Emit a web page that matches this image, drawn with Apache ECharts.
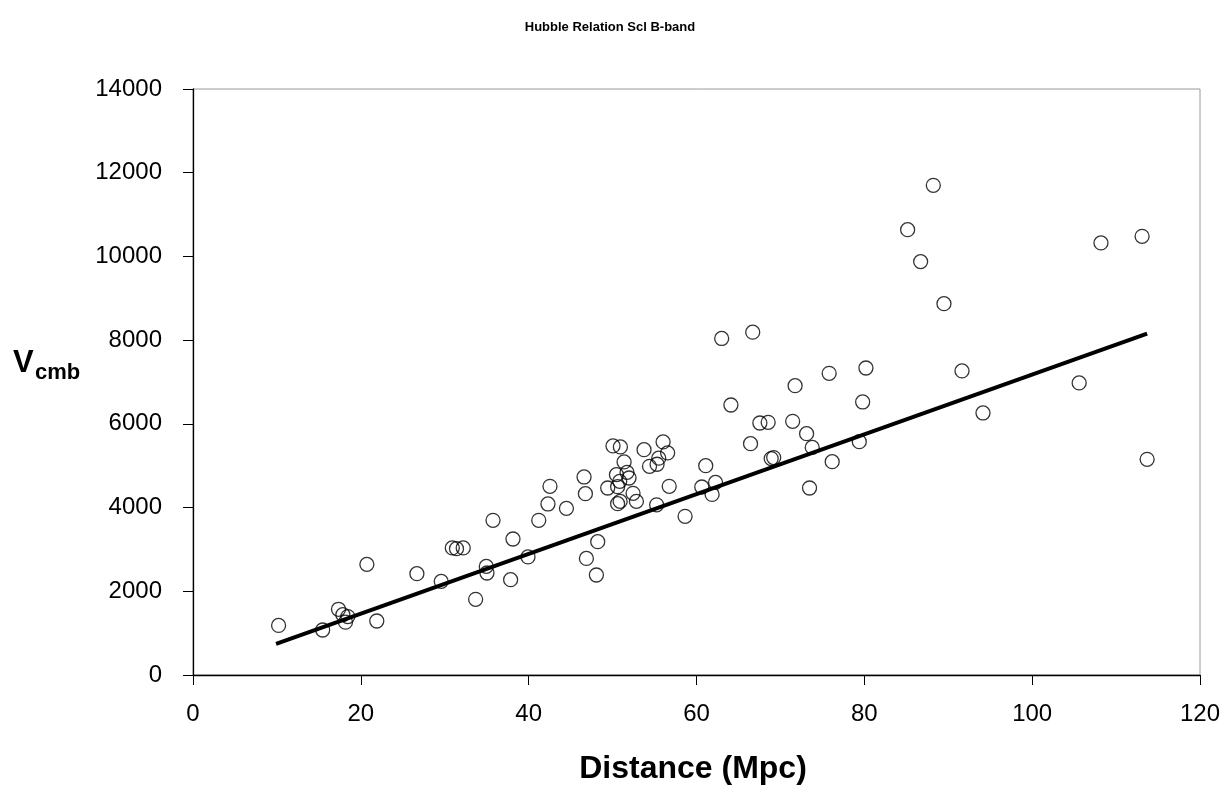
<!DOCTYPE html>
<html>
<head>
<meta charset="utf-8">
<script src="https://cdn.jsdelivr.net/npm/echarts@6/dist/echarts.min.js"></script>
<style>
html,body{margin:0;padding:0;background:#fff;}
#chart{width:1228px;height:796px;}
</style>
</head>
<body>
<div id="chart"></div>
<script>
var distance = [10.2, 15.45, 17.34, 17.86, 18.45, 18.17, 20.72, 21.9, 26.68, 29.58,
  33.68, 30.9, 31.4, 32.2, 35.75, 34.95, 35.03, 38.13, 37.85, 39.92,
  41.2, 42.3, 42.54, 44.5, 46.6, 46.76, 46.88, 48.23, 48.07, 49.42,
  50.05, 50.93, 51.37, 50.46, 50.85, 51.72, 51.96, 50.6, 50.6, 50.9,
  52.44, 52.84, 53.75, 54.4, 55.3, 56.02, 56.56, 55.5, 56.75, 55.25,
  58.64, 60.63, 61.1, 62.27, 61.86, 63.0, 66.7, 64.1, 67.55, 68.54,
  66.44, 68.9, 69.2, 71.75, 71.46, 73.12, 73.79, 73.47, 76.17, 75.81,
  80.19, 79.8, 79.4, 85.16, 88.22, 86.71, 89.49, 91.64, 94.14, 105.6,
  108.2, 113.1, 113.7];
var vcmb = [1185, 1075, 1570, 1441, 1395, 1262, 2643, 1290, 2421, 2237,
  1807, 3035, 3018, 3035, 3695, 2595, 2437, 3249, 2277, 2820,
  3695, 4086, 4507, 3981, 4731, 4332, 2786, 3185, 2389, 4468,
  5473, 5448, 5090, 4786, 4626, 4841, 4707, 4500, 4093, 4148,
  4340, 4148, 5384, 4985, 5035, 5568, 5305, 5180, 4507, 4066,
  3790, 4492, 5001, 4602, 4315, 8040, 8190, 6451, 6021, 6036,
  5527, 5170, 5195, 6913, 6060, 5766, 5438, 4468, 5097, 7207,
  7335, 6523, 5575, 10640, 11699, 9876, 8872, 7264, 6260, 6977,
  10322, 10480, 5152];
var fitX = [9.9, 113.7];
var fitY = [741, 8155];
var xTicks = [0, 20, 40, 60, 80, 100, 120];
var yTicks = [0, 2000, 4000, 6000, 8000, 10000, 12000, 14000];

var pts = distance.map(function (d, i) { return [d, vcmb[i]]; });
var fit = fitX.map(function (d, i) { return [d, fitY[i]]; });
var FONT = '"Liberation Sans", Arial, sans-serif';

var chart = echarts.init(document.getElementById('chart'), null, {renderer: 'canvas'});
chart.setOption({
  animation: false,
  backgroundColor: '#ffffff',
  grid: {left: 193, right: 28, top: 89, bottom: 121, show: true,
    borderColor: '#9a9a9a', borderWidth: 1, backgroundColor: 'transparent'},
  xAxis: {
    type: 'value', min: xTicks[0], max: xTicks[xTicks.length - 1], interval: 20,
    axisLine: {show: true, onZero: false, lineStyle: {color: '#000', width: 1.3}},
    axisTick: {show: true, inside: false, length: 10, lineStyle: {color: '#000', width: 1}},
    splitLine: {show: false},
    axisLabel: {margin: 27, fontSize: 24, color: '#000', fontFamily: FONT,
      formatter: function (v) { return String(v); }}
  },
  yAxis: {
    type: 'value', min: yTicks[0], max: yTicks[yTicks.length - 1], interval: 2000,
    axisLine: {show: true, onZero: false, lineStyle: {color: '#000', width: 1.3}},
    axisTick: {show: true, inside: false, length: 10, lineStyle: {color: '#000', width: 1}},
    splitLine: {show: false},
    axisLabel: {margin: 31, fontSize: 24, color: '#000', fontFamily: FONT,
      formatter: function (v) { return String(v); }}
  },
  graphic: [
    {type: 'text', x: 610, y: 27, style: {text: 'Hubble Relation Scl B-band',
      font: 'bold 13px ' + FONT, fill: '#000', textAlign: 'center', textVerticalAlign: 'middle'}},
    {type: 'text', x: 693, y: 769, style: {text: 'Distance (Mpc)', font: 'bold 32px ' + FONT,
      fill: '#000', textAlign: 'center', textVerticalAlign: 'middle'}},
    {type: 'text', x: 13, y: 363, style: {text: 'V', font: 'bold 31px ' + FONT,
      fill: '#000', textAlign: 'left', textVerticalAlign: 'middle'}},
    {type: 'text', x: 35, y: 373, style: {text: 'cmb', font: 'bold 22px ' + FONT,
      fill: '#000', textAlign: 'left', textVerticalAlign: 'middle'}}
  ],
  series: [
    {type: 'scatter', data: pts, symbol: 'circle', symbolSize: 14, z: 2,
      itemStyle: {color: 'rgba(0,0,0,0)', borderColor: '#000', borderWidth: 1.3}},
    {type: 'line', data: fit, symbol: 'none', z: 3,
      lineStyle: {color: '#000', width: 4}}
  ]
});
</script>
</body>
</html>
